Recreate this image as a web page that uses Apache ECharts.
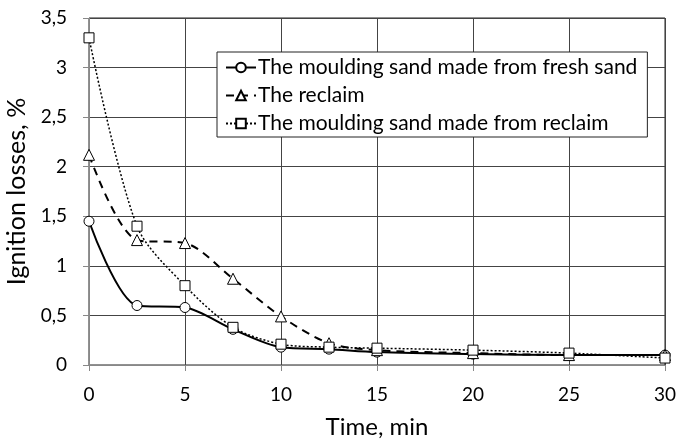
<!DOCTYPE html>
<html><head><meta charset="utf-8">
<script src="https://cdn.jsdelivr.net/npm/echarts@6/dist/echarts.min.js"></script>
<style>html,body{margin:0;padding:0;background:#fff}#c{width:677px;height:443px}</style>
</head><body><div id="c"></div>
<script>
const times = [0, 2.5, 5, 7.5, 10, 12.5, 15, 20, 25, 30];
const freshSand = [1.45, 0.60, 0.58, 0.36, 0.18, 0.16, 0.13, 0.11, 0.10, 0.10];
const reclaim = [2.12, 1.26, 1.23, 0.87, 0.49, 0.22, 0.15, 0.12, 0.10, 0.10];
const reclaimSand = [3.30, 1.40, 0.80, 0.38, 0.21, 0.18, 0.17, 0.15, 0.12, 0.07];
const seriesNames = ['The moulding sand made from fresh sand', 'The reclaim', 'The moulding sand made from reclaim'];

const font = 'Lato, "Open Sans", sans-serif';
const pair = arr => times.map((t, i) => [t, arr[i]]);
const chart = echarts.init(document.getElementById('c'));
chart.setOption({
  animation: false,
  backgroundColor: '#fff',
  grid: { left: 89, right: 12, top: 18, bottom: 78, show: true, borderColor: '#222', borderWidth: 1,
    containLabel: false, outerBoundsMode: 'none' },
  legend: {
    orient: 'vertical', left: 217, top: 52, padding: [5, 10, 3, 8],
    backgroundColor: '#fff', borderColor: '#222', borderWidth: 1,
    itemWidth: 30, itemHeight: 12, itemGap: 7,
    textStyle: { fontFamily: font, fontSize: 21, lineHeight: 21, color: '#000', padding: [0, 0, 0, -3] },
    data: seriesNames
  },
  xAxis: {
    type: 'value', min: 0, max: 30, interval: 5,
    name: 'Time, min', nameLocation: 'middle', nameGap: 50,
    nameTextStyle: { fontFamily: font, fontSize: 24, color: '#000' },
    axisLine: { show: true, lineStyle: { color: '#888' } },
    axisTick: { show: true, length: 6, lineStyle: { color: '#888' } },
    axisLabel: { fontFamily: font, fontSize: 19, color: '#000', margin: 20 },
    splitLine: { show: true, lineStyle: { color: '#444', width: 1 } }
  },
  yAxis: {
    type: 'value', min: 0, max: 3.5, interval: 0.5,
    name: 'Ignition losses, %', nameLocation: 'middle', nameGap: 53, nameRotate: 90,
    nameTextStyle: { fontFamily: font, fontSize: 25, color: '#000' },
    axisLine: { show: true, lineStyle: { color: '#888' } },
    axisTick: { show: true, length: 6, lineStyle: { color: '#888' } },
    axisLabel: { fontFamily: font, fontSize: 19, color: '#000', margin: 22,
      formatter: v => String(v).replace('.', ',') },
    splitLine: { show: true, lineStyle: { color: '#444', width: 1 } }
  },
  series: [
    { name: seriesNames[0], type: 'line', data: pair(freshSand), smooth: 0.3,
      symbol: 'circle', symbolSize: 10, color: '#000',
      lineStyle: { color: '#000', width: 2 },
      itemStyle: { color: '#fff', borderColor: '#000', borderWidth: 1 } },
    { name: seriesNames[1], type: 'line', data: pair(reclaim), smooth: 0.3,
      symbol: 'triangle', symbolSize: 11, color: '#000',
      lineStyle: { color: '#000', width: 2, type: [8, 6] },
      itemStyle: { color: '#fff', borderColor: '#000', borderWidth: 1 } },
    { name: seriesNames[2], type: 'line', data: pair(reclaimSand), smooth: 0.3,
      symbol: 'rect', symbolSize: 10, color: '#000',
      lineStyle: { color: '#000', width: 1.5, type: [2, 2] },
      itemStyle: { color: '#fff', borderColor: '#000', borderWidth: 1 } }
  ]
});
</script></body></html>
